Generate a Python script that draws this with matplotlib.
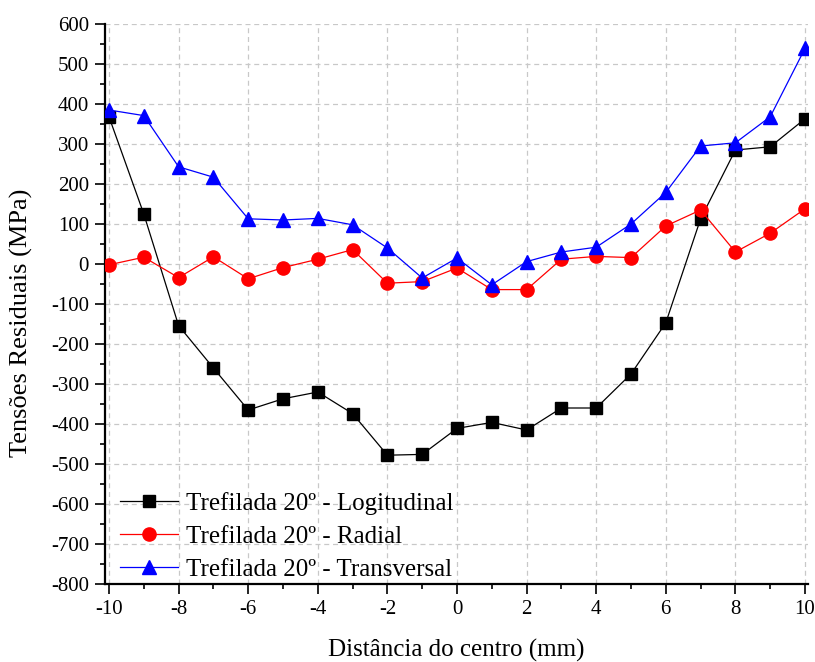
import matplotlib
matplotlib.use("Agg")
import matplotlib.pyplot as plt
from matplotlib.ticker import MultipleLocator

plt.rcParams['font.family'] = ['Liberation Serif', 'DejaVu Serif']
plt.rcParams['axes.unicode_minus'] = False

x = [-10, -9, -8, -7, -6, -5, -4, -3, -2, -1, 0, 1, 2, 3, 4, 5, 6, 7, 8, 9, 10]
longitudinal = [368, 125, -154, -260, -365, -337, -320, -374, -478, -476, -411, -396,
                -415, -360, -360, -275, -147, 113, 285, 293, 363]
radial = [-2, 17, -34, 18, -37, -9, 12, 36, -48, -44, -10, -64,
          -64, 12, 19, 16, 95, 135, 30, 77, 138]
transversal = [385, 371, 243, 217, 113, 110, 114, 98, 40, -35, 15, -52,
               6, 30, 42, 100, 179, 295, 303, 368, 539]
labels = ['Trefilada 20º - Logitudinal', 'Trefilada 20º - Radial',
          'Trefilada 20º - Transversal']

fig = plt.figure(figsize=(8.15, 6.62), dpi=100)
ax = fig.add_axes([105/815, 78/662, 703/815, 560/662])

ax.plot(x, longitudinal, color='black', lw=0.9, marker='s', ms=8.5, mfc='black', mec='black', label=labels[0], zorder=3)
ax.plot(x, radial, color='red', lw=0.9, marker='o', ms=9.5, mfc='red', mec='red', label=labels[1], zorder=3)
ax.plot(x, transversal, color='blue', lw=0.9, marker='^', ms=10, mfc='blue', mec='blue', label=labels[2], zorder=3)

ax.set_xlim(-10.115, 10.086)
ax.set_ylim(-800, 600)
ax.xaxis.set_major_locator(MultipleLocator(2))
ax.xaxis.set_minor_locator(MultipleLocator(1))
ax.yaxis.set_major_locator(MultipleLocator(100))
ax.yaxis.set_minor_locator(MultipleLocator(50))

ax.grid(True, which='major', color='#c8c8c8', linestyle=(0, (4, 3)), linewidth=0.9, zorder=0)
ax.set_axisbelow(True)

for s in ['top', 'right']:
    ax.spines[s].set_visible(False)
for s in ['left', 'bottom']:
    ax.spines[s].set_linewidth(1.6)
    ax.spines[s].set_color('black')

ax.tick_params(which='major', direction='out', length=7.5, width=1.2, labelsize=15, pad=4)
ax.tick_params(which='minor', direction='out', length=3.8, width=1.2)

ax.set_xlabel('Distância do centro (mm)', fontsize=18)
ax.set_ylabel('Tensões Residuais (MPa)', fontsize=19)
ax.xaxis.set_label_coords(0.5, -0.098)
ax.yaxis.set_label_coords(-0.1024, 0.466)

leg = ax.legend(loc='lower left', bbox_to_anchor=(15/703, 0.005), frameon=False,
                fontsize=18, handlelength=2.3, handletextpad=0.35, labelspacing=0.42,
                borderpad=0, borderaxespad=0)

fig.savefig('out.png', dpi=100)
